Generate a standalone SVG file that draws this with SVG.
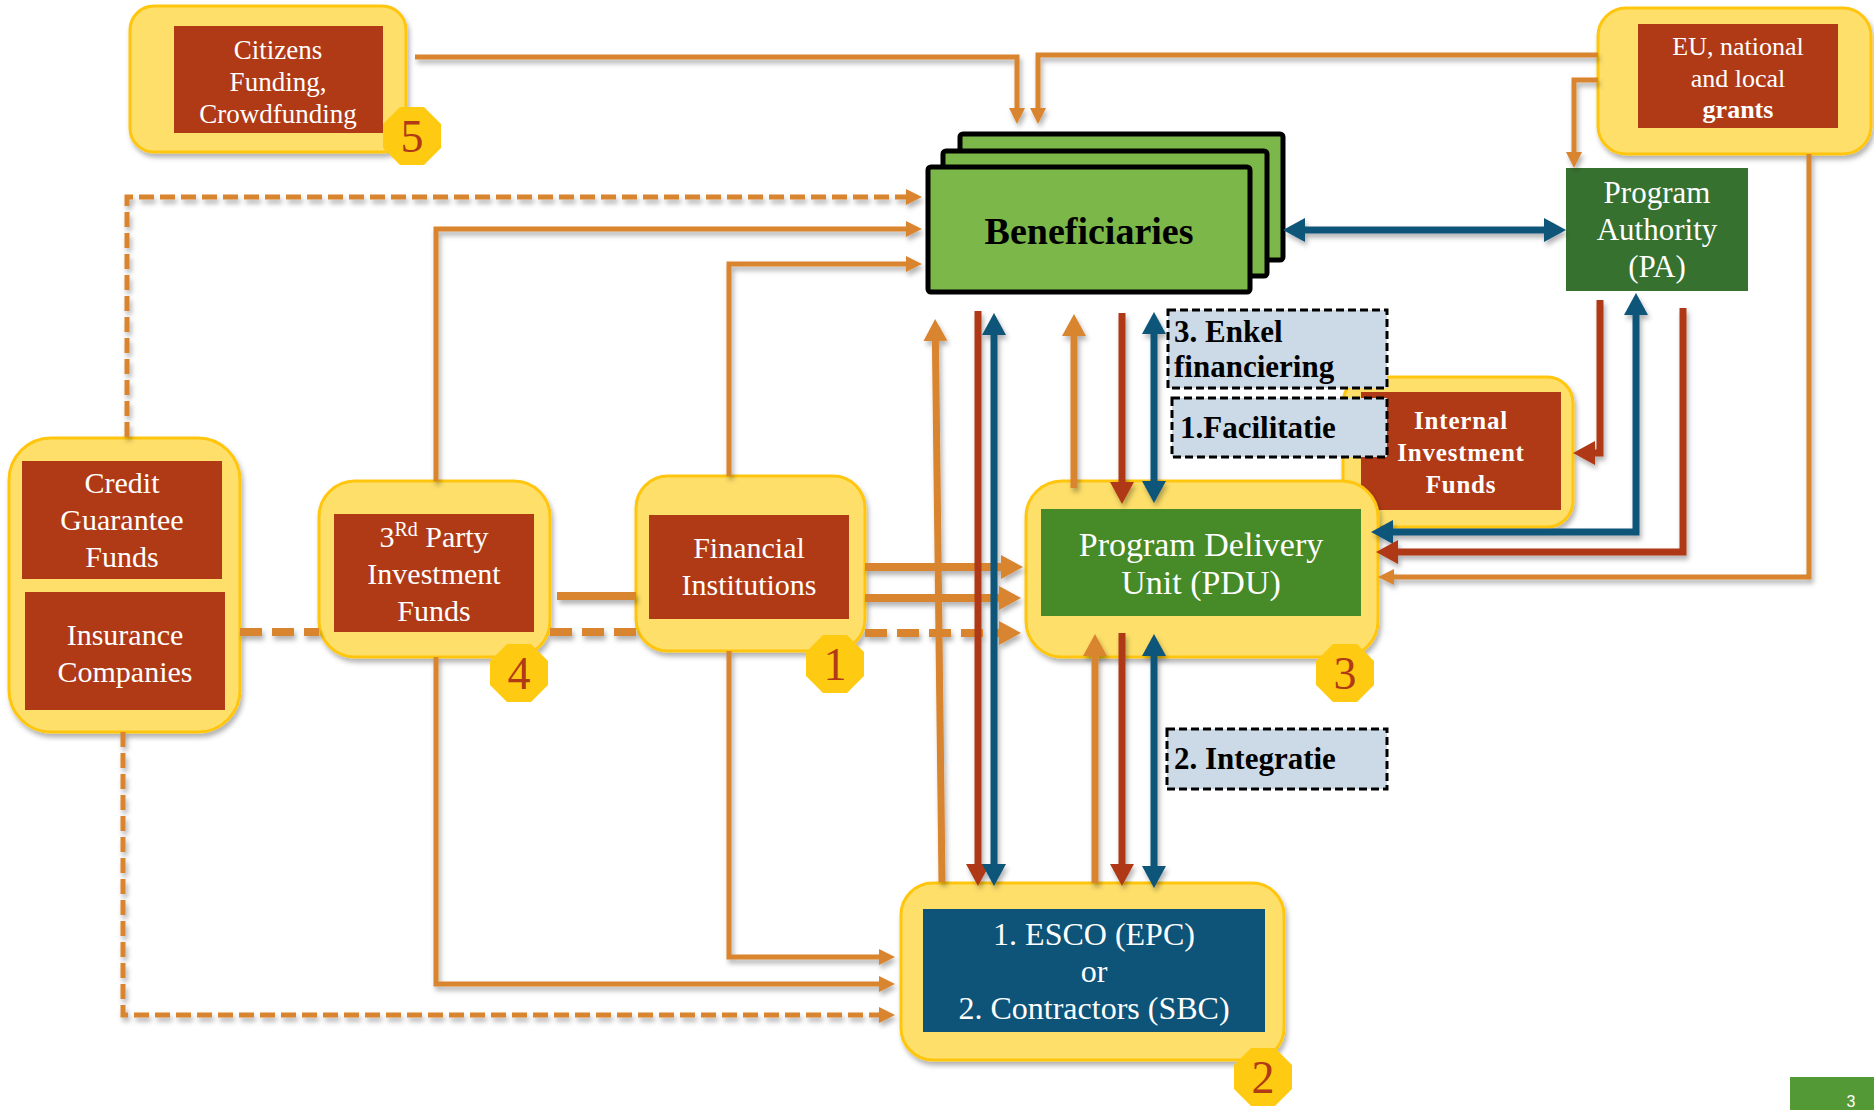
<svg xmlns="http://www.w3.org/2000/svg" width="1874" height="1110" viewBox="0 0 1874 1110">
<defs>
<style>
.yb{fill:#FEDF6A;stroke:#FFC60F;stroke-width:3}
.rb{fill:#B03A16}
.tw{fill:#fff;font-family:"Liberation Serif","Times New Roman",serif;text-anchor:middle}
.tb{fill:#000;font-family:"Liberation Serif","Times New Roman",serif;font-weight:bold}
.ben{fill:#7CB74A;stroke:#000;stroke-width:5}
.lab{fill:#CCDAE7;stroke:#000;stroke-width:3;stroke-dasharray:8 4}
.badge{fill:#FFCA12}
.bn{fill:#B03A16;font-family:"Liberation Serif","Times New Roman",serif;font-size:46px;text-anchor:middle}
.o{fill:none;stroke:#D9842F;stroke-width:5}
.o7{fill:none;stroke:#D9842F;stroke-width:7}
.o8{fill:none;stroke:#D9842F;stroke-width:8}
.r7{fill:none;stroke:#AF3915;stroke-width:7}
.b7{fill:none;stroke:#0E5479;stroke-width:7}
.d5{stroke-dasharray:15 6}
.d8{stroke-dasharray:22 10}
</style>
<filter id="sh" x="-10%" y="-10%" width="120%" height="130%">
<feDropShadow dx="2" dy="4" stdDeviation="2.5" flood-color="#000" flood-opacity="0.3"/>
</filter>
<marker id="mo" viewBox="0 0 16 16" markerWidth="16" markerHeight="16" refX="1" refY="8" orient="auto-start-reverse" markerUnits="userSpaceOnUse"><path d="M0,0 L16,8 L0,16 z" fill="#D9842F"/></marker>
<marker id="mO" viewBox="0 0 22 24" markerWidth="22" markerHeight="24" refX="1" refY="12" orient="auto-start-reverse" markerUnits="userSpaceOnUse"><path d="M0,0 L22,12 L0,24 z" fill="#D9842F"/></marker>
<marker id="mR" viewBox="0 0 22 24" markerWidth="22" markerHeight="24" refX="1" refY="12" orient="auto-start-reverse" markerUnits="userSpaceOnUse"><path d="M0,0 L22,12 L0,24 z" fill="#AF3915"/></marker>
<marker id="mB" viewBox="0 0 22 24" markerWidth="22" markerHeight="24" refX="1" refY="12" orient="auto-start-reverse" markerUnits="userSpaceOnUse"><path d="M0,0 L22,12 L0,24 z" fill="#0E5479"/></marker>
<path id="oct" d="M-12,-29 L12,-29 L29,-12 L29,12 L12,29 L-12,29 L-29,12 L-29,-12 z"/>
</defs>
<rect width="1874" height="1110" fill="#fff"/>

<g id="internal">
<rect class="yb" x="1343" y="377" width="230" height="150" rx="26" filter="url(#sh)"/>
<rect class="rb" x="1361" y="392" width="200" height="118"/>
<text class="tw" font-size="25" font-weight="bold" letter-spacing="0.8"><tspan x="1461" y="429">Internal</tspan><tspan x="1461" y="461">Investment</tspan><tspan x="1461" y="493">Funds</tspan></text>
</g>

<g id="citizens">
<rect class="yb" x="130" y="6" width="276" height="146" rx="24" filter="url(#sh)"/>
<rect class="rb" x="174" y="26" width="209" height="107"/>
<text class="tw" font-size="27"><tspan x="278" y="59">Citizens</tspan><tspan x="278" y="91">Funding,</tspan><tspan x="278" y="123">Crowdfunding</tspan></text>
<use href="#oct" class="badge" transform="translate(412,136)"/>
<text class="bn" x="412" y="152">5</text>
</g>

<g id="eu-grants">
<rect class="yb" x="1598" y="8" width="273" height="146" rx="28" filter="url(#sh)"/>
<rect class="rb" x="1638" y="24" width="200" height="104"/>
<text class="tw" font-size="26"><tspan x="1738" y="55">EU, national</tspan><tspan x="1738" y="87">and local</tspan><tspan x="1738" y="118" font-weight="bold">grants</tspan></text>
</g>

<g id="program-authority">
<rect x="1566" y="168" width="182" height="123" fill="#37712F"/>
<text class="tw" font-size="31"><tspan x="1657" y="203">Program</tspan><tspan x="1657" y="240">Authority</tspan><tspan x="1657" y="277">(PA)</tspan></text>
</g>

<g id="beneficiaries">
<rect class="ben" x="960" y="134" width="323" height="126" rx="3"/>
<rect class="ben" x="943" y="151" width="324" height="125" rx="3"/>
<rect class="ben" x="928" y="167" width="322" height="125" rx="3"/>
<text class="tb" x="1089" y="244" font-size="38" text-anchor="middle">Beneficiaries</text>
</g>

<g id="credit-insurance">
<rect class="yb" x="9" y="438" width="231" height="294" rx="42" filter="url(#sh)"/>
<rect class="rb" x="22" y="461" width="200" height="118"/>
<rect class="rb" x="25" y="592" width="200" height="118"/>
<text class="tw" font-size="30"><tspan x="122" y="493">Credit</tspan><tspan x="122" y="530">Guarantee</tspan><tspan x="122" y="567">Funds</tspan></text>
<text class="tw" font-size="30"><tspan x="125" y="645">Insurance</tspan><tspan x="125" y="682">Companies</tspan></text>
</g>

<g id="third-party">
<rect class="yb" x="319" y="481" width="231" height="176" rx="36" filter="url(#sh)"/>
<rect class="rb" x="334" y="514" width="200" height="118"/>
<text class="tw" font-size="30"><tspan x="434" y="547">3<tspan dy="-11" font-size="20">Rd</tspan><tspan dy="11"> Party</tspan></tspan><tspan x="434" y="584">Investment</tspan><tspan x="434" y="621">Funds</tspan></text>
<use href="#oct" class="badge" transform="translate(519,673)"/>
<text class="bn" x="519" y="689">4</text>
</g>

<g id="financial-institutions">
<rect class="yb" x="636" y="476" width="229" height="175" rx="32" filter="url(#sh)"/>
<rect class="rb" x="649" y="515" width="200" height="104"/>
<text class="tw" font-size="30"><tspan x="749" y="558">Financial</tspan><tspan x="749" y="595">Institutions</tspan></text>
<use href="#oct" class="badge" transform="translate(835,664)"/>
<text class="bn" x="835" y="680">1</text>
</g>

<g id="pdu">
<rect class="yb" x="1026" y="481" width="352" height="176" rx="36" filter="url(#sh)"/>
<rect x="1041" y="509" width="320" height="107" fill="#478A28"/>
<text class="tw" font-size="34"><tspan x="1201" y="556">Program Delivery</tspan><tspan x="1201" y="594">Unit (PDU)</tspan></text>
<use href="#oct" class="badge" transform="translate(1345,673)"/>
<text class="bn" x="1345" y="689">3</text>
</g>

<g id="esco">
<rect class="yb" x="901" y="883" width="383" height="177" rx="32" filter="url(#sh)"/>
<rect x="923" y="909" width="342" height="123" fill="#0E5479"/>
<text class="tw" font-size="32"><tspan x="1094" y="945">1. ESCO (EPC)</tspan><tspan x="1094" y="982">or</tspan><tspan x="1094" y="1019">2. Contractors (SBC)</tspan></text>
<use href="#oct" class="badge" transform="translate(1263,1077)"/>
<text class="bn" x="1263" y="1093">2</text>
</g>

<g id="connectors" filter="url(#sh)">
<path class="o" d="M415,57 H1017 V109" marker-end="url(#mo)"/>
<path class="o" d="M1598,55 H1038 V109" marker-end="url(#mo)"/>
<path class="o" d="M1598,80 H1574 V153" marker-end="url(#mo)"/>
<path class="o d5" d="M127,437 V197 H907" marker-end="url(#mo)"/>
<path class="o" d="M436,481 V229 H907" marker-end="url(#mo)"/>
<path class="o" d="M729,476 V264 H907" marker-end="url(#mo)"/>
<path class="o d5" d="M123,732 V1015 H880" marker-end="url(#mo)"/>
<path class="o" d="M436,657 V984 H880" marker-end="url(#mo)"/>
<path class="o" d="M729,651 V957 H880" marker-end="url(#mo)"/>
<path class="o" d="M1809,154 V577 H1393" marker-end="url(#mo)"/>
<path class="o8" d="M557,596 H636"/>
<path class="o8" d="M865,567 H1002" marker-end="url(#mO)"/>
<path class="o8" d="M865,598 H1000" marker-end="url(#mO)"/>
<path class="o8 d8" d="M240,632 H319"/>
<path class="o8 d8" d="M550,632 H636"/>
<path class="o8 d8" d="M865,633 H1000" marker-end="url(#mO)"/>
<path class="o7" d="M942,882 L935.4,340" marker-end="url(#mO)"/>
<path class="r7" d="M978,311 V865" marker-end="url(#mR)"/>
<path class="b7" d="M994,334 V865" marker-start="url(#mB)" marker-end="url(#mB)"/>
<path class="o7" d="M1074,488 V335" marker-end="url(#mO)"/>
<path class="r7" d="M1122,313 V483" marker-end="url(#mR)"/>
<path class="b7" d="M1154,333 V482" marker-start="url(#mB)" marker-end="url(#mB)"/>
<path class="o7" d="M1095,883 V655" marker-end="url(#mO)"/>
<path class="r7" d="M1122,633 V865" marker-end="url(#mR)"/>
<path class="b7" d="M1154,655 V867" marker-start="url(#mB)" marker-end="url(#mB)"/>
<path class="b7" d="M1304,230 H1545" marker-start="url(#mB)" marker-end="url(#mB)"/>
<path class="r7" d="M1600,300 V453 H1594" marker-end="url(#mR)"/>
<path class="b7" d="M1636,314 V532 H1392" marker-start="url(#mB)" marker-end="url(#mB)"/>
<path class="r7" d="M1683,308 V552 H1397" marker-end="url(#mR)"/>
</g>

<g id="label-enkel">
<rect class="lab" x="1168" y="310" width="219" height="78"/>
<text class="tb" font-size="31"><tspan x="1174" y="342">3. Enkel</tspan><tspan x="1174" y="377">financiering</tspan></text>
</g>
<g id="label-facilitatie">
<rect class="lab" x="1172" y="398" width="215" height="59"/>
<text class="tb" font-size="31" x="1180" y="438">1.Facilitatie</text>
</g>
<g id="label-integratie">
<rect class="lab" x="1167" y="729" width="220" height="60"/>
<text class="tb" font-size="31" x="1174" y="769">2. Integratie</text>
</g>

<g id="page-number">
<rect x="1790" y="1077" width="84" height="33" fill="#539A36"/>
<text x="1851" y="1107" font-size="16" fill="#fff" font-family="Liberation Sans, Arial, sans-serif" text-anchor="middle">3</text>
</g>
</svg>
